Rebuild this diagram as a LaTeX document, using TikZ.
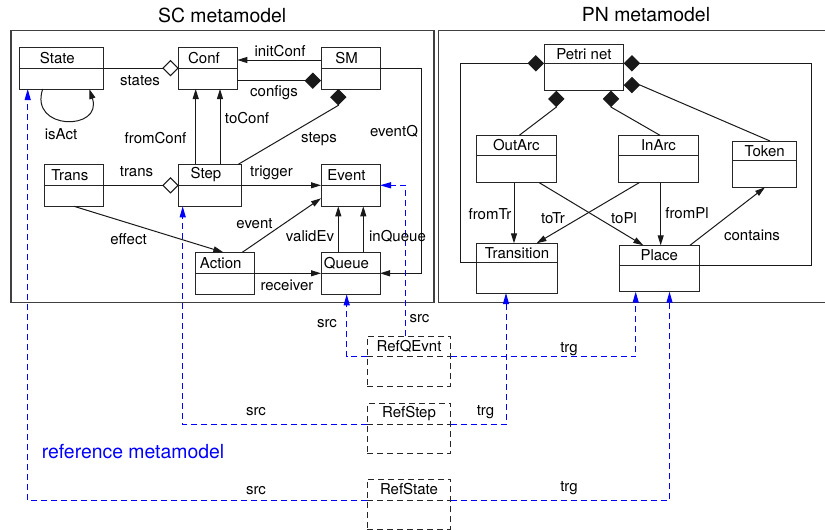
\documentclass[tikz,border=0pt]{standalone}
\usepackage{fontspec}
\setmainfont{TeX Gyre Heros}
\usetikzlibrary{arrows.meta,calc}

\tikzset{
    classbox/.style={draw=black!85, line width=0.5pt, rectangle, anchor=north west,
        inner sep=0pt, outer sep=0pt},
    classname/.style={font=\fontsize{7.5}{9}\selectfont, inner sep=0pt},
    lbl/.style={font=\fontsize{7.5}{9}\selectfont, inner sep=0pt},
    title/.style={font=\fontsize{9.7}{11}\selectfont, inner sep=0pt},
    frame/.style={draw=black!75, line width=0.7pt, rectangle, anchor=north west,
        inner sep=0pt, outer sep=0pt},
    link/.style={draw=black!90, line width=0.5pt},
    arr/.style={link, -{Triangle[length=5pt,width=3pt]}},
    agg/.style={link, -{Diamond[open,length=8.2pt,width=8.2pt]}},
    comp/.style={link, -{Diamond[length=8.2pt,width=8.2pt]}},
    refbox/.style={dash pattern=on 3pt off 2pt},
    ref/.style={blue, line width=0.5pt, dash pattern=on 3pt off 2pt,
        -{Triangle[length=5.5pt,width=3pt]}},
}

% class box: [extra style]{name}{x}{y}{width}{height}{divider}{label}
\newcommand{\umlclass}[8][]{
    \node[classbox, #1, minimum width=#5*0.5pt, minimum height=#6*0.5pt] (#2) at (#3,#4) {};
    \draw[classbox, #1] ($(#2.north west)+(0,#7)$) -- ($(#2.north east)+(0,#7)$);
    \node[classname] (#2-name) at ($(#2.north)+(0,#7/2)$) {#8};
}

\begin{document}
\begin{tikzpicture}[x=0.5pt, y=-0.5pt]

    \useasboundingbox (0,0) rectangle (825,530);

    % the two metamodel frames
    \node[frame, minimum width=423*0.5pt, minimum height=272*0.5pt] (scframe) at (11,30.7) {};
    \node[frame, minimum width=388*0.5pt, minimum height=272*0.5pt] (pnframe) at (438.3,30.7) {};
    \node[title] (sctitle) at (222.2,15) {SC metamodel};
    \node[title] (pntitle) at (646,15) {PN metamodel};

    % SC classes
    \begin{scope}[classname/.append style={xshift=-2pt}]
        \umlclass{state}{19.3}{47.3}{84}{41.7}{20.9}{State}
        \umlclass{conf}{178.7}{47.3}{58.6}{41.7}{20.9}{Conf}
        \umlclass{sm}{321}{47.3}{59}{41.7}{20.9}{SM}
        \umlclass{trans}{44.3}{164.3}{59}{42}{21}{Trans}
        \umlclass{step}{178.7}{164.3}{62.6}{42}{21}{Step}
        \umlclass{event}{321}{164.3}{59}{42}{21}{Event}
        \umlclass{action}{195.3}{252.3}{58.7}{42}{21}{Action}
        \umlclass{queue}{321}{252.3}{59}{42}{21}{Queue}
    \end{scope}

    % PN classes
    \umlclass{petri}{544}{44.3}{79.7}{46.4}{19}{Petri net}
    \umlclass{outarc}{476}{135.3}{80.7}{47.4}{20}{OutArc}
    \umlclass{inarc}{618.5}{135.3}{80}{47.2}{20}{InArc}
    \umlclass{token}{732.7}{141}{64}{46.3}{19.5}{Token}
    \umlclass{transition}{476.5}{243.3}{81}{49.7}{19}{Transition}
    \umlclass{place}{619.3}{245.3}{80}{46.4}{19.8}{Place}

    % reference classes
    \umlclass[refbox]{refq}{367.3}{336}{83.4}{50}{20.7}{RefQEvnt}
    \umlclass[refbox]{refstep}{367.3}{403.3}{83.4}{50.5}{21}{RefStep}
    \umlclass[refbox]{refstate}{367.3}{479}{83.4}{50}{21}{RefState}

    % SC associations
    \draw[agg] (state.east) -- (conf.west);
    \draw[arr] ($(sm.north west)+(0,12.7)$) coordinate (ic) -- (ic -| conf.east);
    \draw[comp] ($(conf.north east)+(0,33.4)$) coordinate (cf) -- (cf -| sm.west);
    \draw[comp] ($(step.north east)+(-3,0)$) -- ($(sm.south west)+(17.3,16.4)$) -- ($(sm.south west)+(17.3,0)$);
    \draw[arr] ($(step.north west)+(17,0)$) coordinate (fc) -- (fc |- conf.south);
    \draw[arr] ($(step.north west)+(41.3,0)$) coordinate (tc) -- (tc |- conf.south);
    \draw[agg] (trans.east) -- (step.west);
    \draw[arr] (step.east) -- (event.west);
    \draw[arr] ($(trans.south west)+(29.7,0)$) -- ($(action.north west)+(28,0)$);
    \draw[arr] ($(action.north west)+(47,0)$) -- ($(event.south west)+(0,-8)$);
    \draw[arr] ($(queue.north west)+(17.3,0)$) coordinate (ve) -- (ve |- event.south);
    \draw[arr] ($(queue.north west)+(42.3,0)$) coordinate (iq) -- (iq |- event.south);
    \draw[arr] (action.east) -- (queue.west);
    \draw[arr] (sm.east) -- ++(41.7,0) |- (queue.east);
    \draw[arr] ($(state.south west)+(23.4,0)$) .. controls +(-14,42) and +(14,42) .. ($(state.south west)+(70,0)$);

    % PN associations
    \draw[comp] ($(transition.north west)+(0,19)$) -- ++(-16.5,0) |- ($(petri.north west)+(0,19)$);
    \draw[comp] ($(place.north east)+(0,19.8)$) -- ++(112.4,0) |- ($(petri.north east)+(0,19)$);
    \draw[comp] ($(token.north west)+(37.3,0)$) -- ($(petri.north east)+(16.4,40.8)$) -- ($(petri.north east)+(0,40.8)$);
    \draw[comp] ($(outarc.north west)+(43.3,0)$) -- ($(petri.south west)+(12.3,16.4)$) -- ($(petri.south west)+(12.3,0)$);
    \draw[comp] ($(inarc.north west)+(41.5,0)$) -- ($(petri.south west)+(67,16.4)$) -- ($(petri.south west)+(67,0)$);
    \draw[arr] ($(outarc.south west)+(38,0)$) coordinate (ft) -- (ft |- transition.north);
    \draw[arr] ($(outarc.south west)+(63.3,0)$) -- ($(place.north west)+(24,0)$);
    \draw[arr] ($(inarc.south west)+(21,0)$) -- ($(transition.north west)+(60,0)$);
    \draw[arr] ($(inarc.south west)+(42.2,0)$) coordinate (fp) -- (fp |- place.north);
    \draw[arr] ($(place.north west)+(70.7,0)$) -- ($(token.south west)+(32.3,0)$);

    % reference links
    \draw[ref] ($(refq.north west)+(0,20.7)$) -| ($(queue.south west)+(25.7,0)$);
    \draw[ref] ($(refq.north east)+(0,20.7)$) -| ($(place.south west)+(16.4,0)$);
    \draw[ref] ($(refq.north west)+(38,0)$) |- (event.east);
    \draw[ref] ($(refstep.north west)+(0,21)$) -| ($(step.south west)+(4,0)$);
    \draw[ref] ($(refstep.north east)+(0,21)$) -| ($(transition.south west)+(29.5,0)$);
    \draw[ref] ($(refstate.north west)+(0,21)$) -| ($(state.south west)+(8.4,0)$);
    \draw[ref] ($(refstate.north east)+(0,21)$) -| ($(place.south west)+(50.2,0)$);

    % role names
    \node[lbl] (l-states) at (140,80.5) {states};
    \node[lbl] (l-initconf) at (280,51) {initConf};
    \node[lbl] (l-configs) at (274,93) {configs};
    \node[lbl] (l-toconf) at (247,118) {toConf};
    \node[lbl] (l-fromconf) at (155.5,138.5) {fromConf};
    \node[lbl] (l-isact) at (61,134) {isAct};
    \node[lbl] (l-steps) at (319,139.5) {steps};
    \node[lbl] (l-eventq) at (394,131) {eventQ};
    \node[lbl] (l-trans) at (136.5,171.5) {trans};
    \node[lbl] (l-trigger) at (271.5,173) {trigger};
    \node[lbl] (l-event) at (254.5,223.5) {event};
    \node[lbl] (l-effect) at (128.5,239.5) {effect};
    \node[lbl] (l-validev) at (310,236) {validEv};
    \node[lbl] (l-inqueue) at (397.5,236) {inQueue};
    \node[lbl] (l-receiver) at (287,285.5) {receiver};
    \node[lbl] (l-fromtr) at (490,214) {fromTr};
    \node[lbl] (l-totr) at (553,218) {toTr};
    \node[lbl] (l-topl) at (624,218.5) {toPl};
    \node[lbl] (l-frompl) at (687,213.5) {fromPl};
    \node[lbl] (l-contains) at (752,235) {contains};

    \node[lbl] (l-srcq) at (327,323.5) {src};
    \node[lbl] (l-srce) at (419.5,319) {src};
    \node[lbl] (l-trgq) at (569,349) {trg};
    \node[lbl] (l-srcstep) at (256,411.5) {src};
    \node[lbl] (l-trgstep) at (485.5,412) {trg};
    \node[lbl] (l-srcstate) at (256,491) {src};
    \node[lbl] (l-trgstate) at (569,488) {trg};

    \node[title, text=blue] (refmm) at (133,452) {reference metamodel};

\end{tikzpicture}
\end{document}
